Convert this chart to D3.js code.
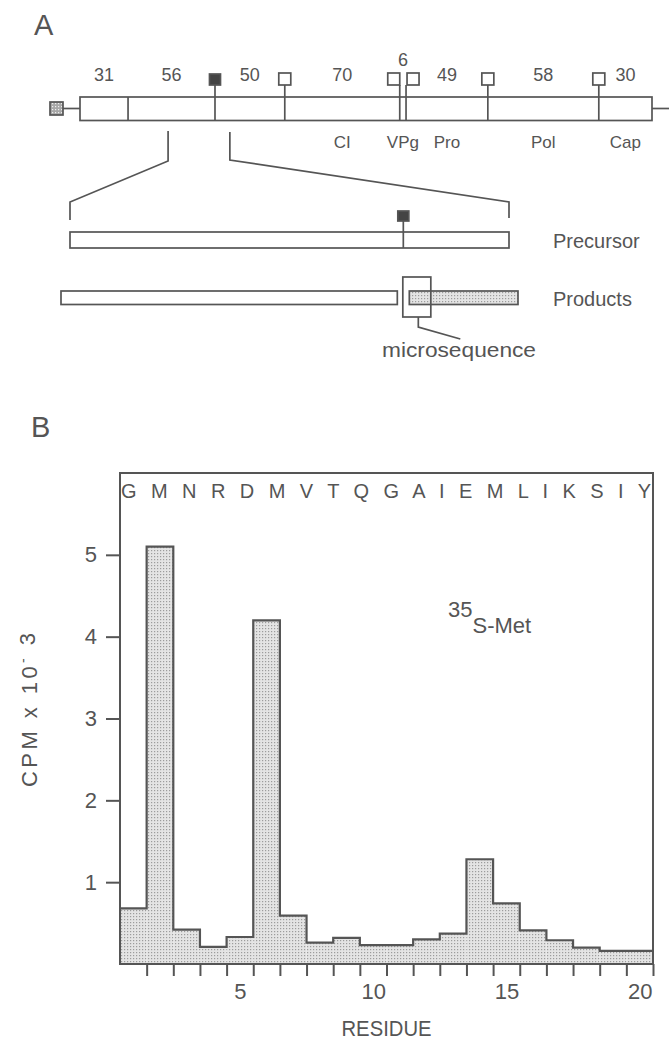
<!DOCTYPE html>
<html>
<head>
<meta charset="utf-8">
<script src="https://cdn.jsdelivr.net/npm/d3@7"></script>
<style>
body{margin:0;background:#fff;}
text{font-family:"Liberation Sans",Arial,sans-serif;fill:#555;}
</style>
</head>
<body>
<svg id="chart" width="669" height="1041"></svg>
<script>
// Panel A: polyprotein map, edges in % of the polyprotein length
var segmentEdges = [0, 8.4, 23.6, 35.8, 55.9, 57.0, 71.3, 90.7, 100];
var proteinSizes = ["31", "56", "50", "70", "6", "49", "58", "30"];
var proteinNames = ["", "", "", "CI", "VPg", "Pro", "Pol", "Cap"];
var siteKinds = [null, "filled", "open", "open", "open", "open", "open"]; // inner edges 1..7
var zoomWindow = [15.4, 26.2];
var cleavedAt = 23.6;

// Panel B: radiosequencing
var residues = ["G","M","N","R","D","M","V","T","Q","G","A","I","E","M","L","I","K","S","I","Y"];
var cpm = [0.68, 5.1, 0.42, 0.21, 0.33, 4.2, 0.59, 0.26, 0.32, 0.23,
           0.23, 0.30, 0.37, 1.28, 0.74, 0.41, 0.29, 0.20, 0.16, 0.16];
var yTicks = [1, 2, 3, 4, 5];
var xTickLabels = [5, 10, 15, 20];

var ink = "#555";
var svg = d3.select("#chart");
var defs = svg.append("defs");
addStipple("stip", "#e4e4e4", "#9c9c9c");
addStipple("stipDark", "#a8a8a8", "#eeeeee");

drawPanelA();
drawPanelB();

function addStipple(id, bg, dot){
    var p = defs.append("pattern").attr("id", id)
        .attr("patternUnits", "userSpaceOnUse").attr("width", 3).attr("height", 3);
    p.append("rect").attr("width", 3).attr("height", 3).attr("fill", bg);
    p.append("rect").attr("x", 1).attr("y", 1).attr("width", 1.2).attr("height", 1.2).attr("fill", dot);
}

function drawPanelA(){
    var g = svg.append("g").attr("stroke", ink).attr("stroke-width", 1.7).attr("fill", "none");
    var gx = d3.scaleLinear().domain([0, 100]).range([80, 652]);
    var boxTop = 97, boxBot = 120.5, mid = 108.5;

    svg.append("text").attr("x", 34).attr("y", 35).attr("font-size", 29).text("A");

    // flanking lines and 5' marker
    g.append("line").attr("x1", 63).attr("x2", gx(0)).attr("y1", mid).attr("y2", mid);
    g.append("line").attr("x1", gx(100)).attr("x2", 669).attr("y1", mid).attr("y2", mid);
    g.append("rect").attr("x", 50).attr("y", 102).attr("width", 13).attr("height", 13)
        .attr("fill", "url(#stipDark)");

    g.append("rect").attr("x", gx(0)).attr("y", boxTop)
        .attr("width", gx(100) - gx(0)).attr("height", boxBot - boxTop).attr("fill", "#fff");

    var inner = segmentEdges.slice(1, -1);
    inner.forEach(function(e, i){
        var x = gx(e);
        g.append("line").attr("x1", x).attr("x2", x).attr("y1", boxTop).attr("y2", boxBot);
        var kind = siteKinds[i];
        if(!kind) return;
        g.append("line").attr("x1", x).attr("x2", x).attr("y1", 85).attr("y2", boxTop);
        var size = kind == "filled" ? 11 : 12;
        var sx = x - size / 2;
        if(i + 1 < inner.length && inner[i + 1] - e < 2) sx = x - size;
        if(i > 0 && e - inner[i - 1] < 2) sx = x + 1;
        g.append("rect").attr("x", sx).attr("y", 85 - size)
            .attr("width", size).attr("height", size)
            .attr("fill", kind == "filled" ? "#444" : "#fff");
    });

    proteinSizes.forEach(function(s, i){
        var c = (gx(segmentEdges[i]) + gx(segmentEdges[i + 1])) / 2;
        var small = segmentEdges[i + 1] - segmentEdges[i] < 2;
        svg.append("text").attr("x", c).attr("y", small ? 66 : 81)
            .attr("text-anchor", "middle").attr("font-size", 18).text(s);
        if(proteinNames[i]){
            svg.append("text").attr("x", c).attr("y", 148)
                .attr("text-anchor", "middle").attr("font-size", 17).text(proteinNames[i]);
        }
    });

    // blow-up of the 56/50 junction
    var zx = d3.scaleLinear().domain(zoomWindow).range([70, 509]);
    g.append("path").attr("d", d3.line()([[gx(zoomWindow[0]), 131], [gx(zoomWindow[0]), 161], [zx(zoomWindow[0]), 202], [zx(zoomWindow[0]), 220]]));
    g.append("path").attr("d", d3.line()([[gx(zoomWindow[1]), 132], [gx(zoomWindow[1]), 160], [zx(zoomWindow[1]), 202], [zx(zoomWindow[1]), 218]]));

    var site = zx(cleavedAt);
    g.append("rect").attr("x", zx(zoomWindow[0])).attr("y", 232)
        .attr("width", zx(zoomWindow[1]) - zx(zoomWindow[0])).attr("height", 16);
    g.append("line").attr("x1", site).attr("x2", site).attr("y1", 221).attr("y2", 248);
    g.append("rect").attr("x", site - 5.5).attr("y", 211).attr("width", 11).attr("height", 10).attr("fill", "#444");

    g.append("rect").attr("x", zx(zoomWindow[0]) - 9).attr("y", 291)
        .attr("width", site - 6 - (zx(zoomWindow[0]) - 9)).attr("height", 13.5);
    g.append("rect").attr("x", site + 6).attr("y", 291)
        .attr("width", zx(zoomWindow[1]) + 9 - (site + 6)).attr("height", 13.5)
        .attr("fill", "url(#stip)");
    g.append("rect").attr("x", site - 0.5).attr("y", 277).attr("width", 28).attr("height", 40);
    g.append("path").attr("d", d3.line()([[site + 15, 317], [site + 15, 327], [site + 57, 339]]));

    svg.append("text").attr("x", 553).attr("y", 248).attr("font-size", 20).text("Precursor");
    svg.append("text").attr("x", 553).attr("y", 306).attr("font-size", 20).text("Products");
    svg.append("text").attr("x", 459).attr("y", 357).attr("text-anchor", "middle")
        .attr("font-size", 20).attr("textLength", 154).attr("lengthAdjust", "spacingAndGlyphs")
        .text("microsequence");
}

function drawPanelB(){
    var left = 120, right = 653, top = 473, bottom = 964;
    var x = d3.scaleLinear().domain([0.5, residues.length + 0.5]).range([left, right]);
    var y = d3.scaleLinear().domain([0, 6]).range([bottom, top]);

    svg.append("text").attr("x", 31).attr("y", 437).attr("font-size", 29).text("B");

    svg.append("g").selectAll("rect").data(cpm).enter().append("rect")
        .attr("x", function(d, i){ return x(i + 0.5); })
        .attr("width", function(d, i){ return x(i + 1.5) - x(i + 0.5); })
        .attr("y", function(d){ return y(d); })
        .attr("height", function(d){ return y(0) - y(d); })
        .attr("fill", "url(#stip)");

    var pts = cpm.map(function(d, i){ return [x(i + 0.5), y(d)]; });
    pts.push([x(cpm.length + 0.5), y(cpm[cpm.length - 1])]);
    svg.append("path").attr("d", d3.line().curve(d3.curveStepAfter)(pts))
        .attr("fill", "none").attr("stroke", ink).attr("stroke-width", 2.2);

    svg.append("rect").attr("x", left).attr("y", top)
        .attr("width", right - left).attr("height", bottom - top)
        .attr("fill", "none").attr("stroke", ink).attr("stroke-width", 2);

    var yAxis = svg.append("g").attr("transform", "translate(" + left + ",0)")
        .call(d3.axisLeft(y).tickValues(yTicks).tickSize(14).tickPadding(9).tickFormat(d3.format("d")));
    var xAxis = svg.append("g").attr("transform", "translate(0," + bottom + ")")
        .call(d3.axisBottom(x).tickValues(d3.range(1.5, residues.length + 1, 1)).tickSize(12).tickFormat(""));
    var xLabels = svg.append("g").attr("transform", "translate(0," + bottom + ")")
        .call(d3.axisBottom(x).tickValues(xTickLabels).tickSize(0).tickPadding(19));
    [yAxis, xAxis, xLabels].forEach(function(a){
        a.select(".domain").remove();
        a.selectAll("line").attr("stroke", ink).attr("stroke-width", 2);
        a.selectAll("text").attr("font-size", 22).attr("fill", ink)
            .attr("font-family", "Liberation Sans, Arial, sans-serif");
    });

    svg.append("text").attr("x", left + 1).attr("y", 498)
        .attr("font-size", 20).attr("textLength", right - left - 3).attr("lengthAdjust", "spacing")
        .text(residues.join(" "));

    var lab = svg.append("text").attr("x", 448).attr("y", 617).attr("font-size", 22);
    lab.append("tspan").text("35");
    lab.append("tspan").attr("dy", 16).text("S-Met");

    svg.append("text").attr("x", (left + right) / 2).attr("y", 1036)
        .attr("text-anchor", "middle").attr("font-size", 22)
        .attr("textLength", 90).attr("lengthAdjust", "spacingAndGlyphs").text("RESIDUE");

    var yl = svg.append("text").attr("transform", "translate(37,710) rotate(-90)")
        .attr("text-anchor", "middle").attr("font-size", 22)
        .attr("textLength", 154).attr("lengthAdjust", "spacing");
    yl.append("tspan").text("CPM x 10");
    yl.append("tspan").attr("dy", -9).attr("font-size", 14).text("-");
    yl.append("tspan").attr("dy", 7).text(" 3");
}
</script>
</body>
</html>
